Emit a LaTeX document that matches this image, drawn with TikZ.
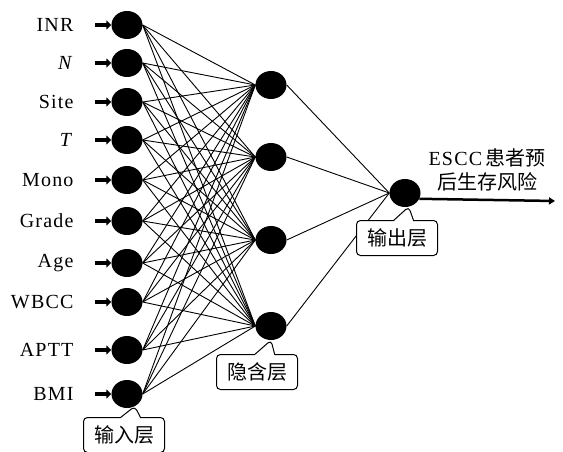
\documentclass[tikz,border=0pt]{standalone}
\usepackage{fontspec}
\setmainfont{Liberation Serif}[LetterSpace=6]
\newfontfamily\zhfont{Noto Sans CJK SC}
\usetikzlibrary{arrows.meta,shapes.geometric,shapes.callouts}

\tikzset{
	neuron/.style={ellipse,fill=black,minimum width=31pt,minimum height=28pt,inner sep=0pt},
	link/.style={line width=0.9pt},
	feed/.style={line width=4pt,-{Triangle[length=5pt,width=9pt]}},
	layertag/.style={rectangle callout,draw,fill=white,line width=1pt,rounded corners=4pt,
		minimum width=81pt,minimum height=35pt,inner sep=0pt,callout pointer width=20pt,
		font=\zhfont\fontsize{20}{24}\selectfont},
}

\begin{document}
\begin{tikzpicture}[x=1pt,y=-1pt,font=\fontsize{20}{24}\selectfont]
		\useasboundingbox (0,0) rectangle (563,452);
		
		% input layer
		\foreach \i/\y/\t in {1/25/INR,2/63/\textit{N},3/102/Site,4/140/\textit{T},5/180/Mono,
			6/221/Grade,7/263/Age,8/302/WBCC,9/350/APTT,10/394/BMI}{
			\node[neuron] (x\i) at (127,\y) {};
			\node[anchor=east] (l\i) at (77,\y) {\t};
			\draw[feed] ([xshift=-16pt]x\i.west) -- (x\i.west);
		}
		
		% hidden layer
		\foreach \j/\y in {1/85,2/157,3/240,4/326}
			\node[neuron] (h\j) at (271,\y) {};
		
		% output layer
		\node[neuron] (o) at (405,193) {};
		\coordinate (end) at (555,201);
		
		\foreach \i in {1,...,10}
			\foreach \j in {1,...,4}
				\draw[link] (x\i.east) -- (h\j.west);
		\foreach \j in {1,...,4}
			\draw[link] (h\j.east) -- (o.west);
		
		\draw[line width=2.5pt,-{Triangle[length=6pt,width=7pt]}] (o.-22) -- (end);
		\node[align=center] (risk) at (487,170) {ESCC\,{\zhfont 患者预}\\{\zhfont 后生存风险}};
		
		% layer tags
		\node[layertag,callout absolute pointer={(x10.-58)}] (tin) at (124,435) {输入层};
		\node[layertag,callout absolute pointer={(h4.-90)}] (thid) at (257,372) {隐含层};
		\node[layertag,callout absolute pointer={(o.-75)}] (tout) at (397,238) {输出层};
	\end{tikzpicture}
\end{document}
